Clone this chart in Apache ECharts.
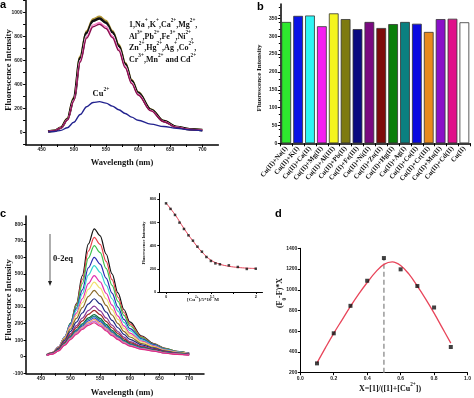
<!DOCTYPE html>
<html><head><meta charset="utf-8">
<script src="https://cdn.jsdelivr.net/npm/echarts@6/dist/echarts.min.js"></script>
<style>html,body{margin:0;padding:0;background:#fff}#c{width:474px;height:398px}</style>
</head><body><div id="c"></div>
<script>
// ---------- DATA ----------
const wl = [460,470,480,490,500,510,520,530,540,550,560,570,580,590,600,620,640,660,680,700];
// panel a: 1 + metal ions (overlapping curves) and Cu2+
const aGold    = [8,16,42,115,290,635,845,945,965,930,848,732,580,438,336,193,97,47,28,21];
const aBlack   = [8,15,40,110,280,620,830,930,950,915,835,720,570,430,330,190,95,46,27,20];
const aWhite   = [8,15,39,107,272,605,812,910,928,896,818,705,558,421,323,186,93,45,26,20];
const aPink    = [8,15,38,105,268,597,800,896,915,882,805,694,549,414,318,183,91,44,26,19];
const aMagenta = [8,15,38,103,263,587,787,881,902,867,792,682,540,407,313,180,90,43,25,19];
const aCu      = [5,8,18,40,85,150,215,250,257,245,220,190,158,128,102,70,50,35,22,15];
// panel b
const bCats = ['Cu(II)+Na(I)','Cu(II)+K(I)','Cu(II)+Ca(II)','Cu(II)+Mg(II)','Cu(II)+Al(III)','Cu(II)+Pb(II)','Cu(II)+Fe(III)','Cu(II)+Ni(II)','Cu(II)+Zn(II)','Cu(II)+Hg(II)','Cu(II)+Ag(I)','Cu(II)+Co(II)','Cu(II)+Cr(III)','Cu(II)+Mn(II)','Cu(II)+Cd(II)','Cu(II)'];
const bVals = [340,357,358,328,364,348,320,340,323,334,340,335,312,348,349,339];
const bColors = ['#2ee82e','#0a14e6','#2ef5f5','#f51ef0','#f5f51e','#7e7a10','#0a0a80','#7a0a80','#7e0a0a','#0a7e0a','#0a8080','#0a0ae0','#e88a1e','#8a10c8','#e0108a','#ffffff'];
// panel c: titration spectra 0-2 eq
const c00 = [10,22,55,110,200,320,490,680,772,730,620,500,385,285,210,125,80,50,32,20];
const c01 = [11,24,58,114,202,315,465,637,720,678,575,465,359,267,198,120,78,49,31,20];
const c02 = [12,25,59,118,203,308,441,595,670,628,533,431,335,250,187,115,76,48,31,20];
const c03 = [13,26,60,119,199,293,404,536,600,559,474,384,300,225,170,108,73,45,30,20];
const c04 = [13,27,60,118,194,281,380,493,550,510,432,350,275,207,158,102,69,43,29,19];
const c05 = [13,26,59,116,186,263,350,441,490,452,383,311,245,186,143,94,65,40,27,19];
const c06 = [13,26,57,112,178,250,326,406,450,414,350,284,225,171,132,88,61,38,26,18];
const c07 = [12,25,55,106,167,231,296,363,400,366,310,252,200,153,119,80,56,35,24,17];
const c08 = [12,23,50,98,153,209,264,318,350,319,270,220,175,135,105,72,51,32,22,15];
const c09 = [11,22,46,90,139,188,233,278,305,277,234,191,152,118,92,64,46,29,20,14];
const c10 = [10,20,44,86,131,176,216,256,280,254,214,175,140,108,85,60,43,27,18,13];
const c11 = [10,19,41,80,122,163,199,234,255,231,195,159,128,99,78,55,40,25,17,12];
const c12 = [9,19,40,78,118,157,192,225,245,221,187,152,123,95,75,53,38,24,17,12];
const c13 = [9,18,39,75,115,152,185,216,235,212,179,146,118,91,72,51,37,23,16,11];
const c14 = [9,18,37,73,111,147,178,207,225,203,171,140,113,88,69,49,36,22,16,11];
const c15 = [8,17,36,70,106,141,172,198,215,194,164,133,108,84,66,47,34,21,15,11];
const c16 = [8,16,35,68,103,135,165,189,205,185,156,127,103,80,64,45,33,21,14,10];
const cColors = ['#111111','#e8404a','#3cc04a','#2a2ab0','#38d6d0','#e030b0','#f2e070','#8a6a2a','#1c2a80','#8a3a9a','#a02a2a','#0a6a3a','#208888','#3050d0','#f0a060','#c070d0','#e02a80'];
// inset of c
const insX = [0,0.1,0.2,0.3,0.4,0.5,0.6,0.7,0.8,0.9,1.0,1.1,1.2,1.4,1.6,1.8,2.0];
const insY = [765,717,665,599,544,489,443,391,348,302,268,247,239,230,216,199,201];
const insFitX = [0,0.2,0.4,0.6,0.8,1.0,1.2,1.4,1.6,1.8,2.0];
const insFitY = [768,668,548,440,345,275,240,222,212,206,203];
// panel d: Job plot
const dX = [0.1,0.2,0.3,0.4,0.5,0.6,0.7,0.8,0.9];
const dY = [290,580,845,1087,1306,1197,1036,829,448];
const dFitX = [0.1,0.15,0.2,0.25,0.3,0.35,0.4,0.45,0.5,0.55,0.6,0.65,0.7,0.75,0.8,0.85,0.9];
const dFitY = [295,440,580,710,840,960,1070,1170,1245,1270,1235,1150,1035,910,775,630,485];
const dDashX = [0.5,0.5];
const dDashY = [200,1300];
// tick labels
const aYLabels = [0,200,400,600,800,1000];
const aYTicks = [-100,0,100,200,300,400,500,600,700,800,900,1000,1100];
const wlLabels = [450,500,550,600,650,700];
const wlTicks = [450,475,500,525,550,575,600,625,650,675,700];
const bYLabels = [0,50,100,150,200,250,300,350];
const cYLabels = [-100,0,100,200,300,400,500,600,700,800];
const insYLabels = [0,200,400,600,800];
const insXLabels = [0,1,2];
const insXTicks = [0,0.5,1,1.5,2];

// ---------- HELPERS ----------
const SANS = "'Liberation Sans', Arial, sans-serif";
const SERIF = "'Liberation Serif', 'Times New Roman', serif";
const pair = (xs, ys) => xs.map((x, i) => [x, ys[i]]);

function rt(str, size) {
  const parts = str.split(/(\^[^\^]*\^|_[^_]*_)/).filter(s => s.length);
  const text = parts.map(p => p[0] === '^' ? '{s|' + p.slice(1, -1) + '}'
    : p[0] === '_' ? '{b|' + p.slice(1, -1) + '}' : '{n|' + p + '}').join('');
  const base = {fontFamily: SERIF, fontWeight: 'bold', fill: '#111'};
  return {
    text,
    rich: {
      n: Object.assign({fontSize: size, lineHeight: size * 1.7}, base),
      s: Object.assign({fontSize: size * 0.65, lineHeight: size * 0.62, verticalAlign: 'top'}, base),
      b: Object.assign({fontSize: size * 0.65, lineHeight: size * 0.62, verticalAlign: 'bottom'}, base)
    }
  };
}
function label(str, x, y, size, opts) {
  opts = opts || {};
  const r = rt(str, size);
  return {
    type: 'text', x, y, rotation: opts.rot || 0, z: 100,
    style: {text: r.text, rich: r.rich, textAlign: opts.align || 'center', textVerticalAlign: 'middle',
      fontFamily: SERIF, fontWeight: 'bold', fontSize: size, fill: '#111'}
  };
}
function letter(ch, x, y) {
  return {type: 'text', x, y, z: 100, style: {text: ch, font: "bold 11px " + SANS, fill: '#000', textVerticalAlign: 'middle'}};
}
function vAxis(grid, min, max, labels, ticks, o) {
  o = o || {};
  return {
    type: 'value', gridIndex: grid, min, max, splitLine: {show: false},
    axisLine: {show: true, onZero: false, lineStyle: {color: '#000', width: o.lw || 1.5}},
    axisTick: {show: true, length: o.tl || 2.5, customValues: ticks, lineStyle: {color: '#000', width: 1}},
    axisLabel: {customValues: labels, fontSize: o.fs || 5, fontWeight: 'bold', color: '#222', margin: o.m || 3,
      fontFamily: SANS, formatter: o.fmt || (v => String(v))}
  };
}
function spec(xAxisIndex, ys, color, width, z) {
  return {type: 'line', xAxisIndex, yAxisIndex: xAxisIndex, data: pair(wl, ys), symbol: 'none',
    smooth: 0.35, smoothMonotone: 'x', lineStyle: {color, width}, z: z || 2, silent: true, animation: false};
}

// ---------- OPTION ----------
const cSpec = [c00,c01,c02,c03,c04,c05,c06,c07,c08,c09,c10,c11,c12,c13,c14,c15,c16];
const series = [];
series.push(spec(0, aGold, '#b59a3a', 2.2, 2));
series.push(spec(0, aBlack, '#111111', 2.6, 3));
series.push(spec(0, aWhite, '#ffffff', 1.0, 4));
series.push(spec(0, aPink, '#ff6fc0', 1.2, 4));
series.push(spec(0, aMagenta, '#8a1050', 1.4, 4));
series.push(spec(0, aCu, '#23238f', 1.4, 4));
series.push({type: 'bar', xAxisIndex: 1, yAxisIndex: 1, data: bVals.map((v, i) => ({value: v, itemStyle: {color: bColors[i]}})),
  barCategoryGap: '18%', itemStyle: {borderColor: '#333', borderWidth: 0.8}, animation: false, silent: true});
cSpec.forEach((ys, i) => series.push(spec(2, ys, cColors[i], 1.2, 2 + i / 100)));
series.push({type: 'line', xAxisIndex: 3, yAxisIndex: 3, data: pair(insFitX, insFitY), symbol: 'none', smooth: 0.4,
  lineStyle: {color: '#e8455a', width: 1}, animation: false, silent: true});
series.push({type: 'scatter', xAxisIndex: 3, yAxisIndex: 3, data: pair(insX, insY), symbol: 'rect', symbolSize: 2.5,
  itemStyle: {color: '#111'}, animation: false, silent: true, z: 5});
series.push({type: 'line', xAxisIndex: 4, yAxisIndex: 4, data: pair(dDashX, dDashY), symbol: 'none',
  lineStyle: {color: '#999', width: 1.5, type: [5, 3]}, animation: false, silent: true});
series.push({type: 'line', xAxisIndex: 4, yAxisIndex: 4, data: pair(dFitX, dFitY), symbol: 'none', smooth: 0.4,
  lineStyle: {color: '#e8455a', width: 1.3}, animation: false, silent: true});
series.push({type: 'scatter', xAxisIndex: 4, yAxisIndex: 4, data: pair(dX, dY), symbol: 'rect', symbolSize: 4,
  itemStyle: {color: '#111'}, animation: false, silent: true, z: 5});

const option = {
  backgroundColor: '#fff',
  animation: false,
  grid: [
    {left: 25.6, top: 0.5, width: 192.8, height: 144},
    {left: 280.3, top: 4.1, width: 190, height: 139.2},
    {left: 26, top: 215.9, width: 178, height: 157.4},
    {left: 159.3, top: 193.5, width: 103.2, height: 98.5},
    {left: 300.3, top: 248.3, width: 170, height: 124.4}
  ],
  xAxis: [
    vAxis(0, 425, 725, wlLabels, wlTicks),
    {type: 'category', gridIndex: 1, data: bCats,
      axisLine: {lineStyle: {color: '#000', width: 1.5}},
      axisTick: {show: true, interval: 0, length: 3, lineStyle: {color: '#000', width: 1}},
      axisLabel: {interval: 0, rotate: 50, fontSize: 6.8, fontWeight: 'bold', fontFamily: SERIF, color: '#111', margin: 4}},
    vAxis(2, 425, 725, wlLabels, wlTicks),
    vAxis(3, -0.15, 2.15, insXLabels, insXTicks, {lw: 1, fs: 4, tl: 2}),
    Object.assign(vAxis(4, 0, 1, null, null, {lw: 1, fs: 5, fmt: v => v.toFixed(1)}), {interval: 0.2})
  ],
  yAxis: [
    vAxis(0, -100, 1100, aYLabels, aYTicks),
    Object.assign(vAxis(1, 0, 390, bYLabels, bYLabels), {minorTick: {show: true, splitNumber: 5, length: 1.5, lineStyle: {color: '#000'}}}),
    vAxis(2, -100, 850, cYLabels, cYLabels),
    vAxis(3, 0, 850, insYLabels, insYLabels, {lw: 1, fs: 4, tl: 2}),
    Object.assign(vAxis(4, 200, 1400, null, null, {lw: 1, fs: 5}), {interval: 200})
  ],
  series,
  graphic: [
    letter('a', 0, 5), letter('b', 257, 7), letter('c', 0, 214), letter('d', 275, 214),
    label('Wavelength (nm)', 122, 163, 8.5),
    label('Fluorescence Intensity', 8.5, 70, 8.5, {rot: Math.PI / 2}),
    label('Cu^2+^', 101, 94, 8.5),
    label('1,Na^+^,K^+^,Ca^2+^,Mg^2+^,', 129, 25, 8, {align: 'left'}),
    label('Al^3+^,Pb^2+^,Fe^3+^,Ni^2+^,', 129, 36.5, 8, {align: 'left'}),
    label('Zn^2+^,Hg^2+^,Ag^+^,Co^2+^,', 129, 48, 8, {align: 'left'}),
    label('Cr^3+^,Mn^2+^ and Cd^2+^', 129, 59.5, 8, {align: 'left'}),
    label('Fluorescence Intensity', 258.7, 78, 7, {rot: Math.PI / 2}),
    label('Wavelength (nm)', 122, 393, 8.5),
    label('Fluorescence Intensity', 8.5, 300, 8.5, {rot: Math.PI / 2}),
    label('0-2eq', 63, 259, 8.5),
    {type: 'line', z: 100, shape: {x1: 50, y1: 234, x2: 50, y2: 282}, style: {stroke: '#777', lineWidth: 1.2}},
    {type: 'polygon', z: 100, shape: {points: [[48, 281], [52, 281], [50, 286]]}, style: {fill: '#222'}},
    label('Fluorescence Intensity', 144, 243, 4.5, {rot: Math.PI / 2}),
    label('[Cu^2+^]/5*10^-5^M', 203, 300, 5),
    label('X=[1]/([1]+[Cu^2+^])', 390, 389, 8),
    label('(F_0_-F)*X', 280.3, 293, 8, {rot: Math.PI / 2})
  ]
};
const chart = echarts.init(document.getElementById('c'), null, {renderer: 'canvas'});
chart.setOption(option);
</script>
</body></html>
